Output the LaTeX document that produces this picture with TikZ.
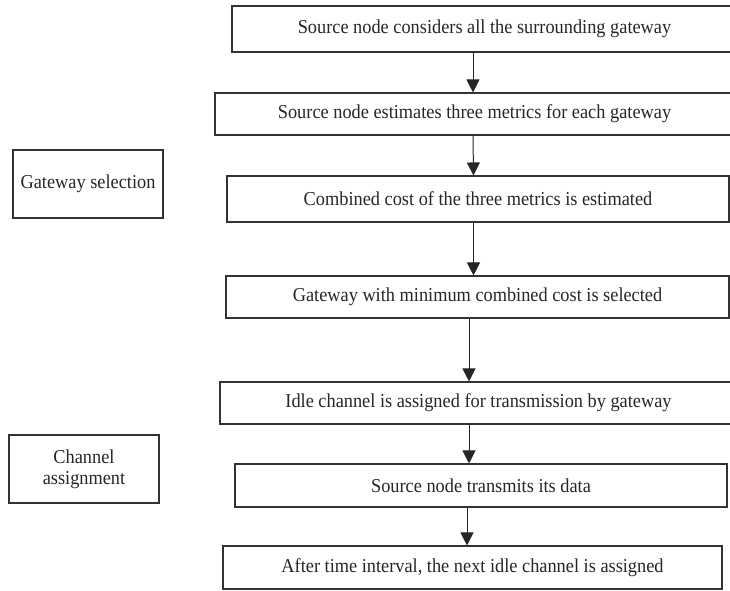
\documentclass[tikz,border=0pt]{standalone}
\usepackage{fontspec}
\setmainfont{Liberation Serif}[FakeStretch=0.93]
\usetikzlibrary{arrows.meta}
\tikzset{
  stepbox/.style={draw=black!80, line width=1.1pt, inner sep=0pt, font=\fontsize{19.7}{22}\selectfont, text=black!85},
  arr/.style={line width=1pt, draw=black!85, -{Triangle[width=13pt,length=13pt]}}
}
\begin{document}
\begin{tikzpicture}[x=1pt,y=-1pt]
    \useasboundingbox (0,0) rectangle (730,590);
    \clip (0,0) rectangle (730,590);
    \node[stepbox, minimum width=505pt, minimum height=46pt] (S1) at (484.5,29) {Source node considers all the surrounding gateway};
    \node[stepbox, minimum width=519pt, minimum height=42pt] (S2) at (474.5,114) {Source node estimates three metrics for each gateway};
    \node[stepbox, minimum width=502pt, minimum height=46pt] (S3) at (478,199) {Combined cost of the three metrics is estimated};
    \node[stepbox, minimum width=503pt, minimum height=42pt] (S4) at (477.5,297) {Gateway with minimum combined cost is selected};
    \node[stepbox, minimum width=517pt, minimum height=42pt] (S5) at (478.5,403) {Idle channel is assigned for transmission by gateway};
    \node[stepbox, minimum width=492pt, minimum height=43pt] (S6) at (481,485.5) {Source node transmits its data};
    \node[stepbox, minimum width=499pt, minimum height=43pt] (S7) at (472.5,567.5) {After time interval, the next idle channel is assigned};
    \node[stepbox, minimum width=150pt, minimum height=68pt] (GS) at (88,184) {Gateway selection};
    \node[stepbox, minimum width=150pt, minimum height=68pt, align=center] (CA) at (84,469) {Channel\\[-1pt]assignment};
    % \draw [->] (GS) -- (S3);
    \draw [arr] ([xshift=-11.5pt]S1.south) -- ([xshift=-1.5pt]S2.north);
    \draw [arr] ([xshift=-1.5pt]S2.south) -- ([xshift=-4.5pt]S3.north);
    \draw [arr] ([xshift=-4.5pt]S3.south) -- ([xshift=-4pt]S4.north);
    \draw [arr] ([xshift=-8.5pt]S4.south) -- ([xshift=-9.5pt]S5.north);
    \draw [arr] ([xshift=-9.5pt]S5.south) -- ([xshift=-12pt]S6.north);
    \draw [arr] ([xshift=-14pt]S6.south) -- ([xshift=-5.5pt]S7.north);
\end{tikzpicture}
\end{document}
